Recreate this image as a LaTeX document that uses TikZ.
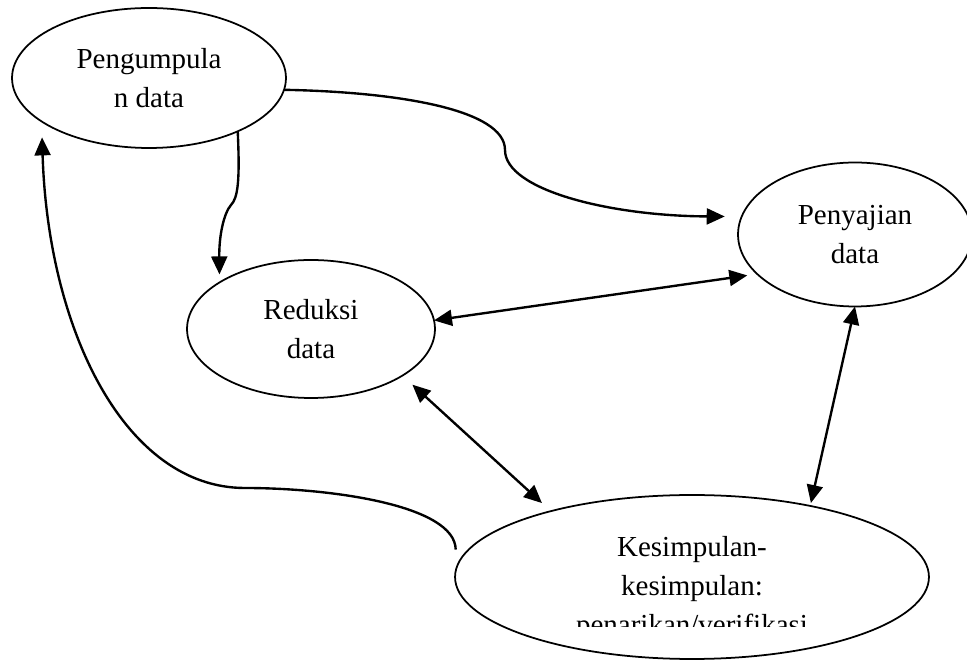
\documentclass[tikz,border=0pt]{standalone}
\usepackage{fontspec}
\setmainfont{Liberation Serif}
\usetikzlibrary{shapes.geometric,arrows.meta}
\begin{document}
\begin{tikzpicture}[x=0.02cm,y=-0.02cm,
  stage/.style={ellipse,draw,line width=1pt,inner sep=0pt,outer sep=0pt,align=center,font=\fontsize{16.5}{22.1}\selectfont},
  labeltext/.style={inner sep=0pt,font=\fontsize{16.5}{22.1}\selectfont},
  flow/.style={line width=1.35pt,-{Triangle[length=0.36cm,width=0.32cm]}},
  both/.style={line width=1.35pt,{Triangle[length=0.36cm,width=0.32cm]}-{Triangle[length=0.36cm,width=0.32cm]}}]
\useasboundingbox (0,0) rectangle (967,661);
\node[stage,minimum width=5.48cm,minimum height=2.8cm] (peng) at (149,78) {Pengumpula\\n data};
\node[stage,minimum width=4.96cm,minimum height=2.76cm] (red) at (311,329) {Reduksi\\data};
\node[stage,minimum width=4.68cm,minimum height=2.88cm] (pen) at (855,234.5) {Penyajian\\data};
\node[stage,minimum width=9.48cm,minimum height=3.28cm] (kes) at (692,577) {};
\begin{scope}
  \clip (440,480) rectangle (940,627);
  \node[labeltext,anchor=base] (kestext) at (692,557) {\begin{tabular}[t]{@{}c@{}}Kesimpulan-\\kesimpulan:\\penarikan/verifikasi\end{tabular}};
\end{scope}
% connectors
\draw[flow,shorten >=0.34cm] (peng.-5) .. controls (400,92) and (505,110) .. (505,150)
  .. controls (505,190) and (610,216) .. (pen.171);
\draw[flow,shorten >=0.16cm] (peng.-31) .. controls (240,180) and (238,198) .. (231,205)
  .. controls (224,213) and (219,235) .. (red.153);
\draw[both,shorten >=0.2cm] (red.4) -- (pen.202);
\draw[both,shorten <=0.27cm,shorten >=0.24cm] (red.-27) -- (kes.155);
\draw[both,shorten >=0.06cm] (pen.-90) -- (kes.31);
\draw[flow,shorten >=0.32cm] ([xshift=-0.26cm]kes.173) .. controls (455,505) and (330,488) .. (245,488)
  .. controls (125,488) and (48,330) .. (peng.202);
\end{tikzpicture}
\end{document}
